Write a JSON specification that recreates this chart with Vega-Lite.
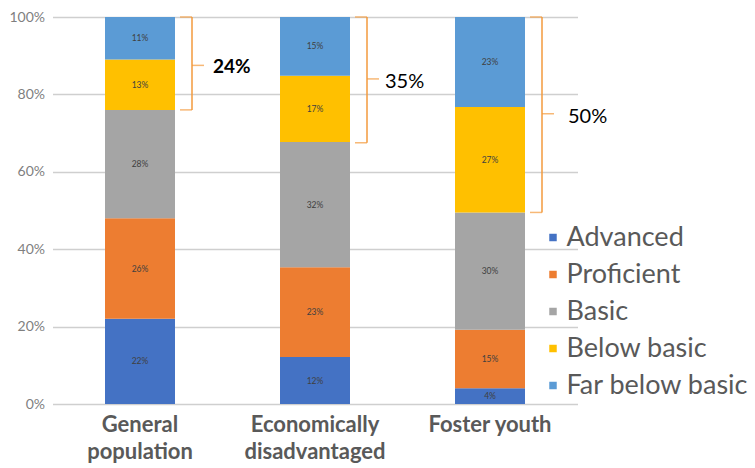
{
  "$schema": "https://vega.github.io/schema/vega-lite/v6.json",
  "width": 525,
  "height": 387,
  "autosize": "none",
  "padding": {"left": 52.5, "top": 17, "right": 177.5, "bottom": 64},
  "config": {"view": {"stroke": null}, "font": "Lato"},
  "datasets": {
    "scores": [
      {"group": "General population", "level": "Advanced", "rank": 1, "share": 0.22},
      {"group": "General population", "level": "Proficient", "rank": 2, "share": 0.26},
      {"group": "General population", "level": "Basic", "rank": 3, "share": 0.28},
      {"group": "General population", "level": "Below basic", "rank": 4, "share": 0.13},
      {"group": "General population", "level": "Far below basic", "rank": 5, "share": 0.11},
      {"group": "Economically disadvantaged", "level": "Advanced", "rank": 1, "share": 0.12},
      {"group": "Economically disadvantaged", "level": "Proficient", "rank": 2, "share": 0.23},
      {"group": "Economically disadvantaged", "level": "Basic", "rank": 3, "share": 0.32},
      {"group": "Economically disadvantaged", "level": "Below basic", "rank": 4, "share": 0.17},
      {"group": "Economically disadvantaged", "level": "Far below basic", "rank": 5, "share": 0.15},
      {"group": "Foster youth", "level": "Advanced", "rank": 1, "share": 0.04},
      {"group": "Foster youth", "level": "Proficient", "rank": 2, "share": 0.15},
      {"group": "Foster youth", "level": "Basic", "rank": 3, "share": 0.30},
      {"group": "Foster youth", "level": "Below basic", "rank": 4, "share": 0.27},
      {"group": "Foster youth", "level": "Far below basic", "rank": 5, "share": 0.23}
    ],
    "brackets": [
      {"group": "General population", "top": 1.0, "bottom": 0.76, "mid": 0.875, "label": "24%"},
      {"group": "Economically disadvantaged", "top": 1.0, "bottom": 0.675, "mid": 0.84, "label": "35%"},
      {"group": "Foster youth", "top": 1.0, "bottom": 0.495, "mid": 0.75, "label": "50%"}
    ]
  },
  "layer": [
    {
      "data": {"name": "scores"},
      "mark": {"type": "bar"},
      "encoding": {
        "x": {
          "field": "group", "type": "nominal",
          "sort": ["General population", "Economically disadvantaged", "Foster youth"],
          "scale": {"paddingInner": 0.6, "paddingOuter": 0.3},
          "axis": {
            "title": null, "domain": false, "ticks": false, "labelAngle": 0,
            "labelFontSize": 22, "labelFontWeight": "bold", "labelColor": "#595959",
            "labelPadding": 10, "labelLineHeight": 27,
            "labelExpr": "datum.label == 'Foster youth' ? datum.label : split(datum.label, ' ')"
          }
        },
        "y": {
          "field": "share", "type": "quantitative", "stack": "normalize",
          "scale": {"domain": [0, 1]},
          "axis": {
            "title": null, "domain": false, "ticks": false,
            "values": [0, 0.2, 0.4, 0.6, 0.8, 1],
            "format": ".0%", "labelFontSize": 14, "labelColor": "#7f7f7f", "labelPadding": 8,
            "grid": true, "gridColor": "#cfcfcf", "gridWidth": 1.5
          }
        },
        "order": {"field": "rank", "type": "quantitative", "sort": "ascending"},
        "color": {
          "field": "level", "type": "nominal",
          "sort": ["Advanced", "Proficient", "Basic", "Below basic", "Far below basic"],
          "scale": {
            "domain": ["Advanced", "Proficient", "Basic", "Below basic", "Far below basic"],
            "range": ["#4472C4", "#ED7D31", "#A5A5A5", "#FFC000", "#5B9BD5"]
          },
          "legend": {
            "title": null, "orient": "none", "legendX": 487, "legendY": 207,
            "symbolType": "square", "symbolSize": 56, "symbolStrokeWidth": 0,
            "labelFontSize": 27, "labelColor": "#595959", "labelFont": "Lato", "labelLimit": 300,
            "rowPadding": 9, "labelOffset": 0
          }
        }
      }
    },
    {
      "data": {"name": "scores"},
      "mark": {"type": "text", "fontSize": 8.5, "color": "#404040"},
      "encoding": {
        "x": {"field": "group", "type": "nominal", "sort": ["General population", "Economically disadvantaged", "Foster youth"]},
        "y": {"field": "share", "type": "quantitative", "stack": "normalize", "bandPosition": 0.5},
        "detail": {"field": "level", "type": "nominal"},
        "order": {"field": "rank", "type": "quantitative", "sort": "ascending"},
        "text": {"field": "share", "type": "quantitative", "format": ".0%"}
      }
    },
    {
      "data": {"name": "brackets"},
      "mark": {"type": "rule", "color": "#F39A3C", "strokeWidth": 1.5, "xOffset": 52},
      "encoding": {
        "x": {"field": "group", "type": "nominal", "sort": ["General population", "Economically disadvantaged", "Foster youth"]},
        "y": {"field": "top", "type": "quantitative"},
        "y2": {"field": "bottom"}
      }
    },
    {
      "data": {"name": "brackets"},
      "mark": {"type": "tick", "color": "#F39A3C", "thickness": 1.5, "size": 12, "xOffset": 46},
      "encoding": {
        "x": {"field": "group", "type": "nominal", "sort": ["General population", "Economically disadvantaged", "Foster youth"]},
        "y": {"field": "top", "type": "quantitative"}
      }
    },
    {
      "data": {"name": "brackets"},
      "mark": {"type": "tick", "color": "#F39A3C", "thickness": 1.5, "size": 12, "xOffset": 46},
      "encoding": {
        "x": {"field": "group", "type": "nominal", "sort": ["General population", "Economically disadvantaged", "Foster youth"]},
        "y": {"field": "bottom", "type": "quantitative"}
      }
    },
    {
      "data": {"name": "brackets"},
      "mark": {"type": "tick", "color": "#F39A3C", "thickness": 1.5, "size": 12, "xOffset": 58},
      "encoding": {
        "x": {"field": "group", "type": "nominal", "sort": ["General population", "Economically disadvantaged", "Foster youth"]},
        "y": {"field": "mid", "type": "quantitative"}
      }
    },
    {
      "data": {"name": "brackets"},
      "transform": [{"filter": "datum.group == 'General population'"}],
      "mark": {"type": "text", "align": "left", "baseline": "middle", "fontSize": 19, "fontWeight": "bold", "color": "#000000", "xOffset": 73, "dy": 2},
      "encoding": {
        "x": {"field": "group", "type": "nominal", "sort": ["General population", "Economically disadvantaged", "Foster youth"]},
        "y": {"field": "mid", "type": "quantitative"},
        "text": {"field": "label"}
      }
    },
    {
      "data": {"name": "brackets"},
      "transform": [{"filter": "datum.group == 'Economically disadvantaged'"}],
      "mark": {"type": "text", "align": "left", "baseline": "middle", "fontSize": 20, "color": "#000000", "xOffset": 70, "dy": 3},
      "encoding": {
        "x": {"field": "group", "type": "nominal", "sort": ["General population", "Economically disadvantaged", "Foster youth"]},
        "y": {"field": "mid", "type": "quantitative"},
        "text": {"field": "label"}
      }
    },
    {
      "data": {"name": "brackets"},
      "transform": [{"filter": "datum.group == 'Foster youth'"}],
      "mark": {"type": "text", "align": "left", "baseline": "middle", "fontSize": 20, "color": "#000000", "xOffset": 78, "dy": 3},
      "encoding": {
        "x": {"field": "group", "type": "nominal", "sort": ["General population", "Economically disadvantaged", "Foster youth"]},
        "y": {"field": "mid", "type": "quantitative"},
        "text": {"field": "label"}
      }
    }
  ]
}
